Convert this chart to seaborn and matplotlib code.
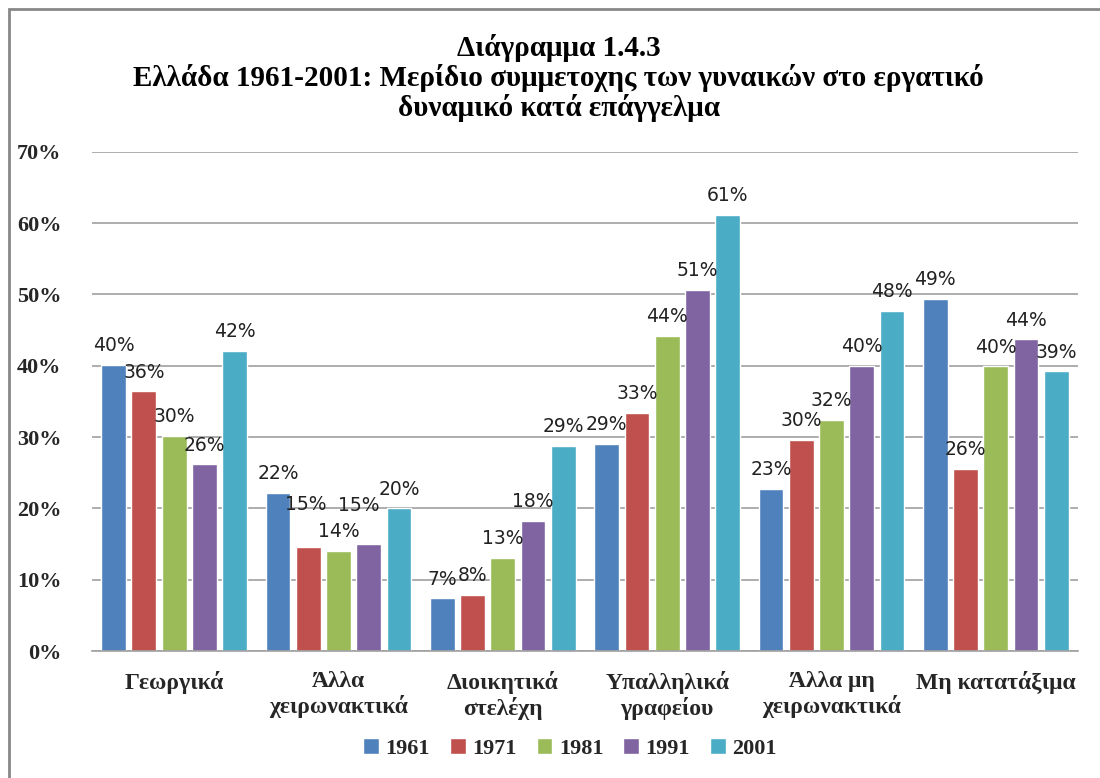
import pandas as pd
import matplotlib.pyplot as plt
import seaborn as sns
from matplotlib.patches import Rectangle
from matplotlib.ticker import PercentFormatter

categories = ["Γεωργικά", "Άλλα\nχειρωνακτικά", "Διοικητικά\nστελέχη",
              "Υπαλληλικά\nγραφείου", "Άλλα μη\nχειρωνακτικά", "Μη κατατάξιμα"]
years = ["1961", "1971", "1981", "1991", "2001"]

v1961 = [0.401, 0.222, 0.074, 0.291, 0.227, 0.494]
v1971 = [0.364, 0.146, 0.079, 0.334, 0.296, 0.256]
v1981 = [0.302, 0.141, 0.131, 0.442, 0.324, 0.399]
v1991 = [0.262, 0.150, 0.183, 0.506, 0.400, 0.437]
v2001 = [0.421, 0.200, 0.288, 0.612, 0.477, 0.392]

colors = ["#4F81BD", "#C0504D", "#9BBB59", "#8064A2", "#4BACC6"]

rows = []
for year, vals in zip(years, [v1961, v1971, v1981, v1991, v2001]):
    for cat, v in zip(categories, vals):
        rows.append({"cat": cat, "year": year, "value": v})
df = pd.DataFrame(rows)

sns.set_style("white")
plt.rcParams["font.family"] = ["Liberation Serif", "DejaVu Serif"]

fig = plt.figure(figsize=(11, 7.78), dpi=100)
ax = fig.add_axes([0.0836, 0.163, 0.8964, 0.642])

sns.barplot(data=df, x="cat", y="value", hue="year", palette=colors,
            width=0.92, gap=0.18, saturation=1, ax=ax, legend=True)

# labels that Excel nudged to avoid overlaps: (series, category) -> (dx, dy) in points
nudged = {(1, 1): (-2, 17), (3, 1): (-7, 14)}

for si, cont in enumerate(ax.containers):
    texts = ax.bar_label(cont, labels=[f"{b.get_height()*100:.0f}%" for b in cont],
                         padding=7, fontsize=13.5, family="DejaVu Sans", color="#222222")
    for ci, t in enumerate(texts):
        if (si, ci) in nudged:
            dx, dy = nudged[(si, ci)]
            x0, y0 = t.xyann
            t.xyann = (x0 + dx, y0 + dy)

ax.set_ylim(0, 0.7)
ax.set_yticks([i / 10 for i in range(8)])
ax.yaxis.set_major_formatter(PercentFormatter(1.0, decimals=0))
ax.grid(axis="y", color="#A0A0A0", linewidth=1.2)
ax.set_axisbelow(True)
for s in ["left", "right", "top"]:
    ax.spines[s].set_visible(False)
ax.spines["bottom"].set_color("#A0A0A0")
ax.spines["bottom"].set_linewidth(1.2)
ax.tick_params(axis="both", length=0)
ax.tick_params(axis="y", pad=22)
ax.tick_params(axis="x", pad=14)
ax.set_xlim(-0.5, 5.5)
ax.set_xlabel("")
ax.set_ylabel("")
for t in ax.get_yticklabels():
    t.set_fontsize(16)
    t.set_fontweight("bold")
for t in ax.get_xticklabels():
    t.set_fontsize(17)
    t.set_fontweight("bold")

ax.legend(loc="center", bbox_to_anchor=(0.485, -0.195), ncol=5, frameon=False,
          prop={"size": 16, "weight": "bold"}, handlelength=0.7, handleheight=0.7,
          handletextpad=0.3, columnspacing=0.9)

fig.text(0.508, 0.9, "Διάγραμμα 1.4.3\nΕλλάδα 1961-2001: Μερίδιο συμμετοχης των γυναικών στο εργατικό\nδυναμικό κατά επάγγελμα",
         ha="center", va="center", fontsize=21, fontweight="bold", linespacing=1.1,
         color="black")

fig.patches.append(Rectangle((0.008, -0.01), 1.2, 0.999, transform=fig.transFigure,
                             fill=False, edgecolor="#888888", linewidth=2))

fig.savefig("out.png", dpi=100)
